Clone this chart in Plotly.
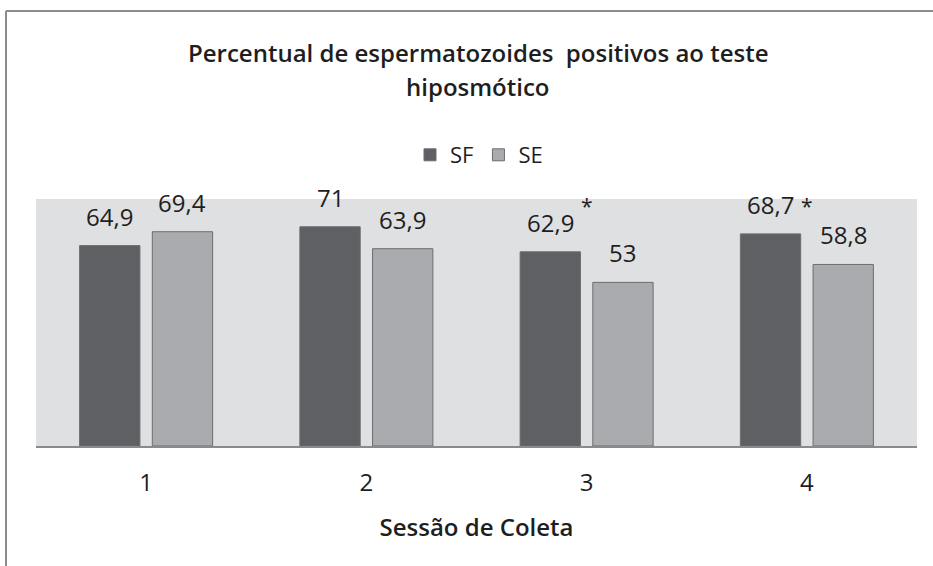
import plotly.graph_objects as go

sessions = ["1", "2", "3", "4"]
sf_values = [64.9, 71, 62.9, 68.7]
se_values = [69.4, 63.9, 53, 58.8]
significance = ["", "", "*", "*"]
series_names = ["SF", "SE"]

title_line1 = "Percentual de espermatozoides  positivos ao teste"
title_line2 = "hiposmótico"
x_title = "Sessão de Coleta"

FONT = "Open Sans"
TXT = "#1e1e1e"
SF_COLOR = "#5e6063"
SE_COLOR = "#aaabae"
EDGE = "#6c6d70"
PLOT_BG = "#dfe0e1"

# plot area in pixels (layout only)
L, R, T, B = 36, 917, 199, 446
PW, PH = R - L, B - T


def fmt(v):
    return str(v).replace(".", ",")


def py(pix):
    return (B - pix) / PH


def px(pix):
    return (pix - L) / PW


fig = go.Figure()
for name, vals, col in [(series_names[0], sf_values, SF_COLOR),
                        (series_names[1], se_values, SE_COLOR)]:
    fig.add_trace(go.Bar(
        x=sessions, y=vals, name=name,
        marker=dict(color=col, line=dict(color=EDGE, width=1)),
        hoverinfo="skip",
    ))

label_font = dict(family=FONT, size=24, color=TXT)
annotations = []
offset = 0.165
for i, (a, b) in enumerate(zip(sf_values, se_values)):
    annotations.append(dict(x=i - offset, y=a, xref="x", yref="y", text=fmt(a),
                            showarrow=False, yanchor="bottom", yshift=11,
                            font=label_font))
    annotations.append(dict(x=i + offset, y=b, xref="x", yref="y", text=fmt(b),
                            showarrow=False, yanchor="bottom", yshift=11,
                            font=label_font))
    if significance[i]:
        annotations.append(dict(x=i, y=77.8, xref="x", yref="y", text=significance[i],
                                showarrow=False, yanchor="middle",
                                font=dict(family=FONT, size=21, color=TXT)))

title_font = dict(family=FONT, size=24, color=TXT, weight=600)
annotations.append(dict(xref="paper", yref="paper", x=px(478), y=py(52),
                        yanchor="middle", xanchor="center", text=title_line1,
                        showarrow=False, font=title_font))
annotations.append(dict(xref="paper", yref="paper", x=px(478), y=py(87),
                        yanchor="middle", xanchor="center", text=title_line2,
                        showarrow=False, font=title_font))

fig.update_layout(
    width=933, height=566,
    margin=dict(l=L, r=933 - R, t=T, b=566 - B),
    paper_bgcolor="white",
    plot_bgcolor=PLOT_BG,
    barmode="group",
    bargap=0.34,
    bargroupgap=0.17,
    legend=dict(orientation="h", x=px(479), xanchor="center",
                y=py(155), yanchor="middle",
                font=dict(family=FONT, size=22, color=TXT),
                bgcolor="rgba(0,0,0,0)", itemwidth=30, traceorder="normal"),
    annotations=annotations,
    xaxis=dict(showline=True, linecolor="#8a8a8a", linewidth=2,
               showgrid=False, ticks="", ticklabelstandoff=14,
               tickfont=dict(family=FONT, size=24, color=TXT),
               title=dict(text=x_title, standoff=22,
                          font=dict(family=FONT, size=24, color=TXT, weight=600)),
               range=[-0.5, 3.5], automargin=False),
    yaxis=dict(range=[0, 80], visible=False, showgrid=False, zeroline=False),
    shapes=[dict(type="line", xref="paper", yref="paper",
                 x0=px(6), x1=1.2, y0=py(11), y1=py(11),
                 line=dict(color="#8c8c8c", width=2)),
            dict(type="line", xref="paper", yref="paper",
                 x0=px(6), x1=px(6), y0=py(11), y1=-1,
                 line=dict(color="#8c8c8c", width=2))],
    showlegend=True,
)

fig.write_html("out.html", config={"displayModeBar": False},
               post_script="document.body.style.margin='0px';document.body.style.overflow='hidden';")
